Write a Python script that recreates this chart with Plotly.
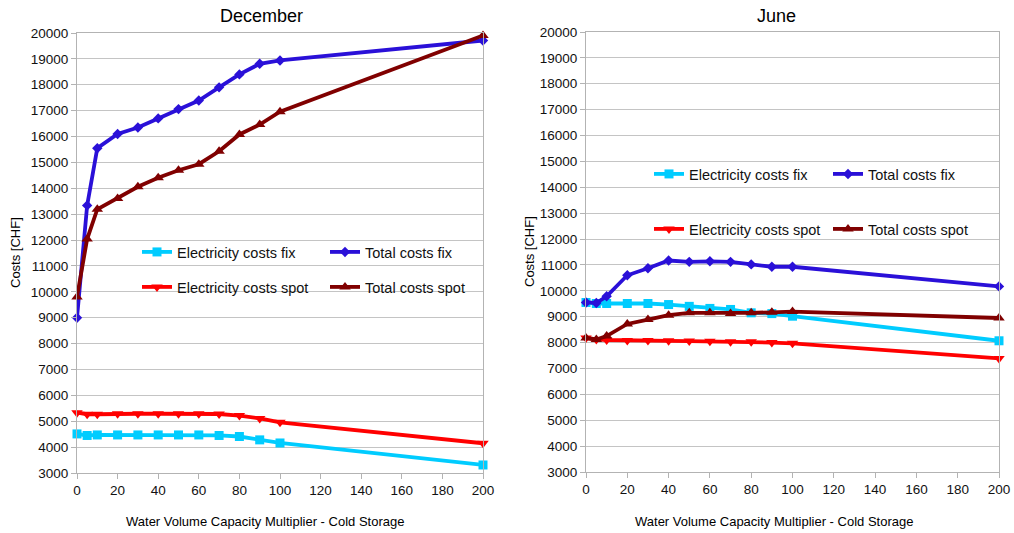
import plotly.graph_objects as go

W, H = 1014, 533

# Water volume capacity multiplier (shared by both months)
x_mult = [0, 5, 10, 20, 30, 40, 50, 60, 70, 80, 90, 100, 200]

# December costs [CHF]
dec_elec_fix = [4510, 4450, 4470, 4470, 4470, 4470, 4470, 4470, 4450, 4410, 4280, 4160, 3310]
dec_total_fix = [9000, 13340, 15550, 16100, 16350, 16700, 17060, 17390, 17900, 18400, 18810, 18940, 19710]
dec_elec_spot = [5330, 5270, 5270, 5290, 5290, 5290, 5290, 5290, 5280, 5220, 5110, 4960, 4150]
dec_total_spot = [9800, 12040, 13190, 13610, 14060, 14410, 14700, 14930, 15430, 16080, 16460, 16960, 19900]

# June costs [CHF]
jun_elec_fix = [9550, 9510, 9510, 9510, 9510, 9470, 9400, 9320, 9280, 9150, 9120, 9020, 8070]
jun_total_fix = [9550, 9530, 9790, 10600, 10870, 11170, 11120, 11140, 11120, 11020, 10930, 10930, 10170]
jun_elec_spot = [8180, 8120, 8100, 8080, 8080, 8070, 8060, 8050, 8030, 8030, 8000, 7970, 7390]
jun_total_spot = [8180, 8120, 8250, 8720, 8890, 9060, 9150, 9150, 9120, 9150, 9170, 9200, 8950]

series_names = ["Electricity costs fix", "Total costs fix",
                "Electricity costs spot", "Total costs spot"]
y_ticks = list(range(3000, 20001, 1000))
x_ticks = list(range(0, 201, 20))

FONT = "Liberation Sans, Arial, sans-serif"
styles = [
    dict(color="#00ccff", symbol="square", size=9),
    dict(color="#2a10d8", symbol="diamond", size=8),
    dict(color="#ff0000", symbol="triangle-down", size=10),
    dict(color="#800000", symbol="triangle-up", size=10),
]


def px_x(p):
    return p / W


def px_y(p):
    return 1 - p / H


fig = go.Figure()

panels = [
    ("x", "y", [dec_elec_fix, dec_total_fix, dec_elec_spot, dec_total_spot], ["legend", "legend", "legend2", "legend2"]),
    ("x2", "y2", [jun_elec_fix, jun_total_fix, jun_elec_spot, jun_total_spot], ["legend3", "legend3", "legend4", "legend4"]),
]
for xa, ya, values, legends in panels:
    for name, vals, st, lg in zip(series_names, values, styles, legends):
        fig.add_trace(go.Scatter(
            x=x_mult, y=vals, name=name, mode="lines+markers",
            xaxis=xa, yaxis=ya, legend=lg, cliponaxis=False,
            line=dict(color=st["color"], width=3.8),
            marker=dict(color=st["color"], symbol=st["symbol"], size=st["size"]),
        ))

axis_common = dict(
    showline=True, linecolor="#b3b3b3", linewidth=1, mirror=True,
    showgrid=True, gridcolor="#c4c4c4", gridwidth=1, zeroline=False,
    ticks="outside", ticklen=5, tickcolor="#b3b3b3", automargin=False,
    tickfont=dict(family=FONT, size=13.5, color="#111111"),
)
x_cfg = dict(axis_common, range=[0, 200], tickvals=x_ticks, showgrid=False)
y_cfg = dict(axis_common, range=[3000, 20000], tickvals=y_ticks, tickformat="d")

leg_common = dict(
    orientation="h", xanchor="left", yanchor="middle",
    bgcolor="rgba(0,0,0,0)", borderwidth=0,
    font=dict(family=FONT, size=14.5, color="#111111"),
)

fig.update_layout(
    width=W, height=H, autosize=False,
    margin=dict(l=0, r=0, t=0, b=0, pad=0, autoexpand=False),
    paper_bgcolor="white", plot_bgcolor="white",
    xaxis=dict(x_cfg, domain=[px_x(77), px_x(483)], anchor="y"),
    yaxis=dict(y_cfg, domain=[px_y(473), px_y(33)], anchor="x"),
    xaxis2=dict(x_cfg, domain=[px_x(586), px_x(999)], anchor="y2"),
    yaxis2=dict(y_cfg, domain=[px_y(472), px_y(32)], anchor="x2"),
    legend=dict(leg_common, x=px_x(137), y=px_y(252), entrywidth=143),
    legend2=dict(leg_common, x=px_x(137), y=px_y(287), entrywidth=143),
    legend3=dict(leg_common, x=px_x(649), y=px_y(174), entrywidth=134),
    legend4=dict(leg_common, x=px_x(649), y=px_y(229), entrywidth=134),
)

annotations = [
    dict(text="December", x=px_x(261), y=px_y(16), size=18),
    dict(text="June", x=px_x(776), y=px_y(16), size=18),
    dict(text="Water Volume Capacity Multiplier - Cold Storage", x=px_x(265), y=px_y(521), size=13),
    dict(text="Water Volume Capacity Multiplier - Cold Storage", x=px_x(774), y=px_y(521), size=13),
    dict(text="Costs [CHF]", x=px_x(15), y=px_y(253), size=13, angle=-90),
    dict(text="Costs [CHF]", x=px_x(529), y=px_y(252), size=13, angle=-90),
]
for a in annotations:
    fig.add_annotation(
        text=a["text"], x=a["x"], y=a["y"], xref="paper", yref="paper",
        xanchor="center", yanchor="middle", showarrow=False,
        textangle=a.get("angle", 0),
        font=dict(family=FONT, size=a["size"], color="#000000"),
    )

fig.write_html("out.html")
